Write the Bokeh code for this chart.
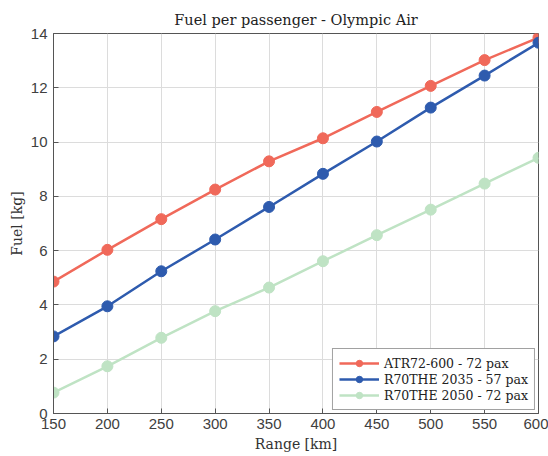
from bokeh.plotting import figure
from bokeh.models import Range1d, FixedTicker, Legend, LegendItem
from bokeh.embed import file_html
from bokeh.resources import INLINE

range_km = [150, 200, 250, 300, 350, 400, 450, 500, 550, 600]
atr72 = [4.86, 6.03, 7.16, 8.25, 9.29, 10.14, 11.11, 12.07, 13.02, 13.85]
r70_2035 = [2.84, 3.95, 5.24, 6.41, 7.61, 8.83, 10.02, 11.27, 12.45, 13.66]
r70_2050 = [0.77, 1.74, 2.79, 3.77, 4.64, 5.61, 6.57, 7.51, 8.47, 9.42]
labels = ["ATR72-600 - 72 pax", "R70THE 2035 - 57 pax", "R70THE 2050 - 72 pax"]
colors = ["#F0695A", "#2E5BAE", "#BFE3C4"]
x_ticks = [150, 200, 250, 300, 350, 400, 450, 500, 550, 600]
y_ticks = [0, 2, 4, 6, 8, 10, 12, 14]

p = figure(width=548, height=456, output_backend="svg", toolbar_location=None,
           x_range=Range1d(150, 600), y_range=Range1d(0, 14),
           min_border_left=53, min_border_right=10, min_border_top=33, min_border_bottom=43)

p.title.text = "Fuel per passenger - Olympic Air"
p.title.align = "center"
p.title.text_font = "DejaVu Serif"
p.title.text_font_style = "normal"
p.title.text_font_size = "14.5px"
p.title.text_color = "#222222"
p.title.offset = 0
p.title.standoff = 11

axis_color = "#555555"
for ax in [p.xaxis[0], p.yaxis[0]]:
    ax.major_tick_in = 5
    ax.major_tick_out = 0
    ax.minor_tick_in = 0
    ax.minor_tick_out = 0
    ax.axis_line_color = axis_color
    ax.major_tick_line_color = axis_color
    ax.major_label_text_font = "Liberation Sans"
    ax.major_label_text_font_size = "15px"
    ax.major_label_text_color = "#404040"
    ax.axis_label_text_font = "DejaVu Serif"
    ax.axis_label_text_font_style = "normal"
    ax.axis_label_text_font_size = "14px"
    ax.axis_label_text_color = "#333333"

p.xaxis.ticker = FixedTicker(ticks=x_ticks)
p.yaxis.ticker = FixedTicker(ticks=y_ticks)
p.xaxis.axis_label = "Range [km]"
p.yaxis.axis_label = "Fuel [kg]"
p.xaxis.major_label_standoff = 5
p.yaxis.major_label_standoff = 6
p.xaxis.axis_label_standoff = 4
p.yaxis.axis_label_standoff = 3

p.xgrid.ticker = FixedTicker(ticks=x_ticks)
p.ygrid.ticker = FixedTicker(ticks=y_ticks)
p.grid.grid_line_color = "#dcdcdc"
p.grid.grid_line_width = 1
p.outline_line_color = axis_color

items = []
for ys, lab, col in zip([atr72, r70_2035, r70_2050], labels, colors):
    r1 = p.line(range_km, ys, line_color=col, line_width=2.5)
    r2 = p.scatter(range_km, ys, size=11, fill_color=col, line_color=col, marker="circle")
    items.append(LegendItem(label=lab, renderers=[r1, r2]))

legend = Legend(items=items, location="bottom_right")
legend.label_text_font = "DejaVu Serif"
legend.label_text_font_size = "12.5px"
legend.label_text_color = "#222222"
legend.border_line_color = "#444444"
legend.border_line_width = 1
legend.background_fill_alpha = 1
legend.glyph_width = 40
legend.glyph_height = 16
legend.label_height = 16
legend.spacing = 0
legend.padding = 6
legend.margin = 3
legend.label_standoff = 5
p.add_layout(legend)

open("out.html", "w").write(file_html(p, INLINE))
